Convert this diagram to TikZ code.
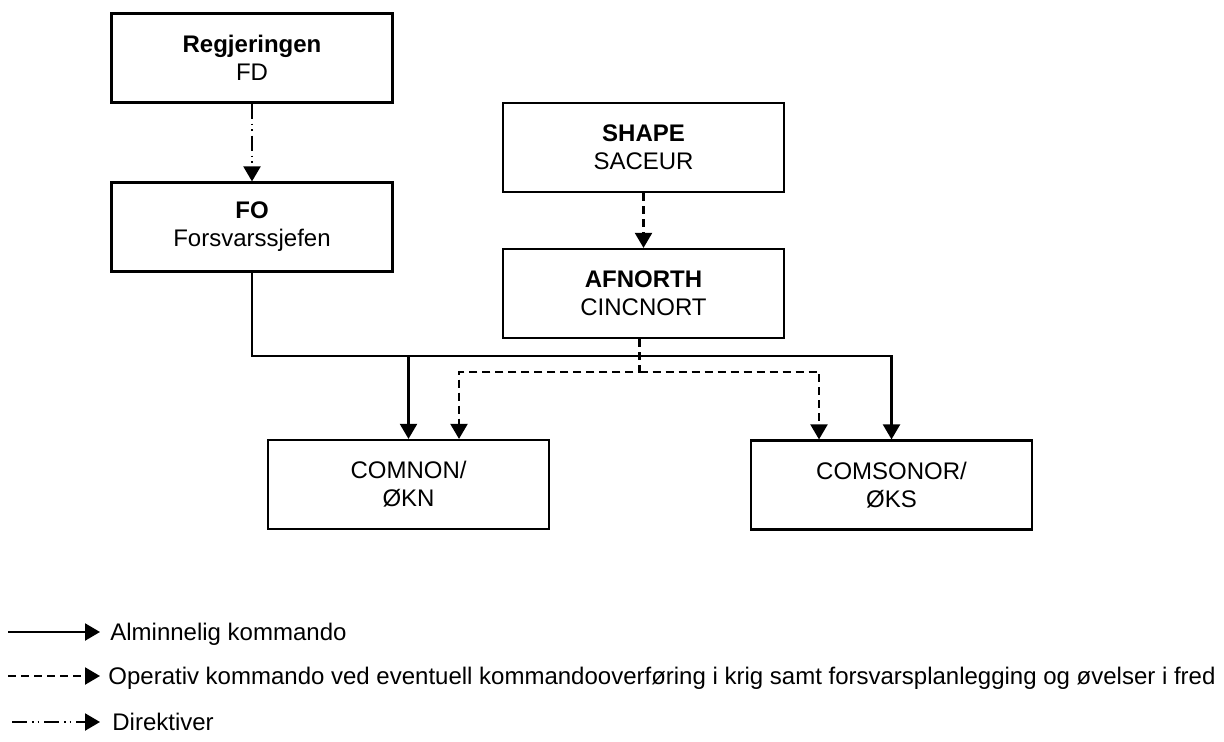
\documentclass[tikz,border=0pt]{standalone}
\usepackage{fontspec}
\setmainfont{Liberation Sans}
\usetikzlibrary{arrows.meta}
\begin{document}
\begin{tikzpicture}[x=0.5pt,y=-0.5pt,
  box/.style={draw,line width=1.1pt,minimum width=140.5pt,minimum height=44.5pt,align=center,inner sep=0pt,font=\fontsize{12}{14}\selectfont},
  conn/.style={line width=1.1pt,-{Triangle[length=7.5pt,width=8.5pt]}},
  cmdline/.style={conn},
  opline/.style={conn,dash pattern=on 4pt off 2.5pt},
  dirline/.style={conn,dash pattern=on 7.5pt off 2.5pt on 0.8pt off 2pt on 0.8pt off 2.4pt},
  legtext/.style={anchor=base west,inner sep=0pt,font=\fontsize{12}{14}\selectfont}]
\useasboundingbox (0,0) rectangle (1224,742);
% boxes
\node[box] (reg) at (252,58) {\textbf{Regjeringen}\\FD};
\node[box] (fo) at (252,227) {\textbf{FO}\\Forsvarssjefen};
\node[box] (shape) at (643.5,147.5) {\textbf{SHAPE}\\SACEUR};
\node[box] (afn) at (643.5,293.5) {\textbf{AFNORTH}\\CINCNORT};
\node[box] (comnon) at (408.5,484.5) {COMNON/\\ØKN};
\node[box] (comsonor) at (891.5,485) {COMSONOR/\\ØKS};
% helper coordinates
\coordinate (bus) at (0,356);
\coordinate (dbus) at (0,372);
% connectors
\draw[dirline] (reg.south) -- (fo.north);
\draw[opline] (shape.south) -- (afn.north);
\draw[cmdline] (fo.south) |- (comsonor.north |- bus) -- (comsonor.north);
\draw[cmdline] (comnon.north |- bus) -- (comnon.north);
\draw[opline] ([xshift=-2pt]afn.south) |- ([xshift=25.25pt]comnon.north |- dbus) -- ([xshift=25.25pt]comnon.north);
\draw[opline] ([xshift=-2pt]afn.south |- dbus) -| ([xshift=-36.25pt]comsonor.north);
% legend
\coordinate (l1s) at (8,632);
\coordinate (l1e) at (100,632);
\coordinate (l2s) at (8,676);
\coordinate (l2e) at (100,676);
\coordinate (l3s) at (12,722);
\coordinate (l3e) at (100,722);
\draw[cmdline] (l1s) -- (l1e);
\draw[opline] (l2s) -- (l2e);
\draw[dirline] (l3s) -- (l3e);
\node[legtext] (t1) at (110,640.5) {Alminnelig kommando};
\node[legtext] (t2) at (108,684.5) {Operativ kommando ved eventuell kommandooverføring i krig samt forsvarsplanlegging og øvelser i fred};
\node[legtext] (t3) at (112,730.5) {Direktiver};
\end{tikzpicture}
\end{document}
